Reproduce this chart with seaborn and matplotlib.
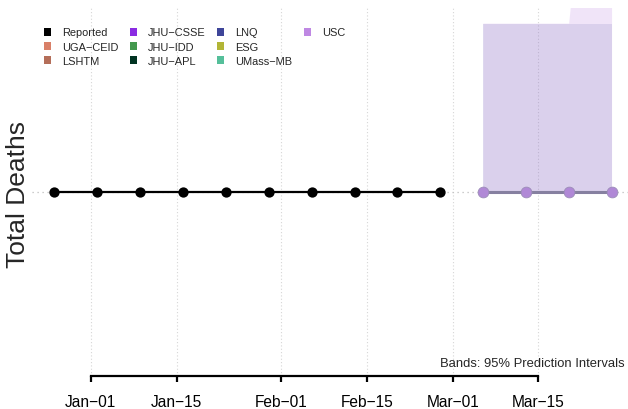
import matplotlib
matplotlib.use("Agg")
import matplotlib.pyplot as plt
import matplotlib.dates as mdates
from matplotlib.patches import Patch
import seaborn as sns
import pandas as pd
import numpy as np

# ---------------- data ----------------
reported_dates = ["2020-12-26", "2021-01-02", "2021-01-09", "2021-01-16", "2021-01-23",
                  "2021-01-30", "2021-02-06", "2021-02-13", "2021-02-20", "2021-02-27"]
reported_values = [0, 0, 0, 0, 0, 0, 0, 0, 0, 0]

forecast_dates = ["2021-03-06", "2021-03-13", "2021-03-20", "2021-03-27"]
usc_point = [0, 0, 0, 0]
usc_lower = [0, 0, 0, 0]
usc_upper = [0.915, 0.915, 0.915, 3.2]
lnq_lower = [0, 0, 0, 0]
lnq_upper = [0.915, 0.915, 0.915, 0.915]

legend_labels = ["Reported", "UGA\u2212CEID", "LSHTM",
                 "JHU\u2212CSSE", "JHU\u2212IDD", "JHU\u2212APL",
                 "LNQ", "ESG", "UMass\u2212MB", "USC"]
legend_colors = ["#000000", "#D98068", "#B46E59",
                 "#8A2BE2", "#43984D", "#003322",
                 "#3E4599", "#B2B536", "#55BF9A", "#BF88E3"]

tick_dates = ["2021-01-01", "2021-01-15", "2021-02-01", "2021-02-15", "2021-03-01", "2021-03-15"]
tick_labels = ["Jan\u221201", "Jan\u221215", "Feb\u221201", "Feb\u221215", "Mar\u221201", "Mar\u221215"]

# ---------------- style ----------------
sns.set_style("white")
plt.rcParams["font.family"] = ["Liberation Sans", "DejaVu Sans"]

fig = plt.figure(figsize=(6.28, 4.10), dpi=100)
W, H = 628, 410
ax = fig.add_axes([32 / W, (H - 377) / H, 1 - 32 / W, (377 - 9) / H])

rep = pd.DataFrame({"date": pd.to_datetime(reported_dates), "value": reported_values})
fc = pd.DataFrame({"date": pd.to_datetime(forecast_dates), "value": usc_point,
                   "lo": usc_lower, "hi": usc_upper, "lnq_lo": lnq_lower, "lnq_hi": lnq_upper})

# grid lines
tick_dt = pd.to_datetime(tick_dates)
for d in tick_dt:
    ax.axvline(d, color="#D6D6D6", lw=0.8, ls=(0, (1, 2)), zorder=0)
ax.axhline(0, color="#BDBDBD", lw=0.9, ls=(0, (1, 3)), zorder=0)

# bands
ax.fill_between(fc["date"], fc["lo"], fc["hi"], color="#BF88E3", alpha=0.22, lw=0, zorder=1)
ax.fill_between(fc["date"], fc["lnq_lo"], fc["lnq_hi"], color="#3E4599", alpha=0.12, lw=0, zorder=1)

# reported
sns.lineplot(data=rep, x="date", y="value", color="black", lw=1.6, ax=ax, zorder=3)
sns.scatterplot(data=rep, x="date", y="value", color="black", s=55, edgecolor="black",
                linewidth=0, ax=ax, zorder=4)

# forecast
sns.lineplot(data=fc, x="date", y="value", color="#8680A0", lw=2.2, ax=ax, zorder=3)
sns.scatterplot(data=fc, x="date", y="value", color="#B088D6", s=60, edgecolor="#9B8CB8",
                linewidth=0.6, ax=ax, zorder=4)

# limits
x0 = pd.Timestamp("2021-01-01")
ax.set_xlim(x0 - pd.Timedelta(days=9.6), x0 + pd.Timedelta(days=87.6))
ax.set_ylim(-1, 1)

# axes styling
for s in ["top", "right", "left"]:
    ax.spines[s].set_visible(False)
ax.spines["bottom"].set_bounds(mdates.date2num(tick_dt[0]), mdates.date2num(tick_dt[-1]))
ax.spines["bottom"].set_linewidth(1.6)
ax.spines["bottom"].set_color("black")
ax.set_xticks(tick_dt)
ax.set_xticklabels(tick_labels, fontsize=11.2)
ax.tick_params(axis="x", bottom=True, direction="out", length=4, width=1.6, pad=9,
               colors="black")
ax.set_yticks([])
ax.set_xlabel("")
ax.set_ylabel("")

fig.text(18 / W, 1 - 194 / H, "Total Deaths", rotation=90, fontsize=19,
         ha="center", va="center")
fig.text(625 / W, 1 - 364 / H, "Bands: 95% Prediction Intervals", fontsize=9.4,
         ha="right", va="center")

handles = [Patch(facecolor=c, edgecolor="none") for c in legend_colors]
handles += [Patch(facecolor="none", edgecolor="none"), Patch(facecolor="none", edgecolor="none")]
labels = legend_labels + ["", ""]
leg = fig.legend(handles, labels, ncol=4, loc="upper left",
                 bbox_to_anchor=(43.5 / W, 1 - 28.5 / H), frameon=False, fontsize=7.9,
                 handlelength=0.7, handleheight=0.7, handletextpad=1.0,
                 columnspacing=1.0, labelspacing=0.38, borderpad=0, borderaxespad=0)

fig.savefig("out.png", dpi=100)
